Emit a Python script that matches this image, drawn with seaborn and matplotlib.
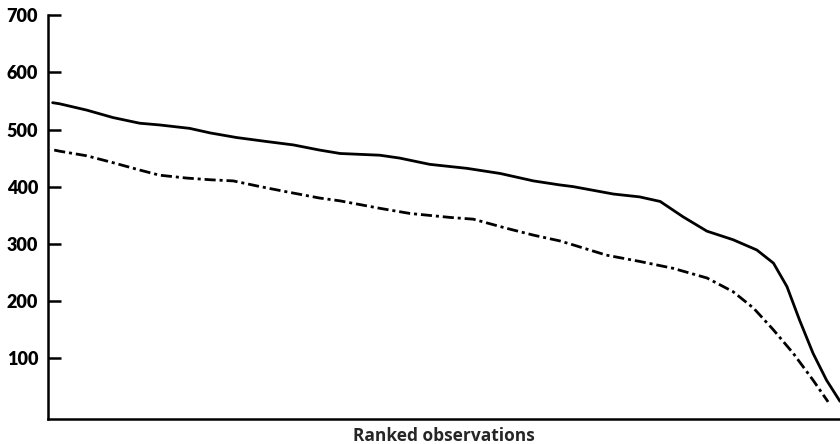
import matplotlib
matplotlib.use("Agg")
import matplotlib.pyplot as plt
import seaborn as sns
import pandas as pd

# Ranked position (percent of observations, 0 = highest) and measured values
rank_solid = [0.6, 1.5, 4.9, 8.2, 11.6, 14.1, 17.9, 20.5, 23.8, 27.6, 31.0, 34.3,
              36.9, 41.9, 44.4, 48.2, 52.9, 57.1, 61.3, 64.6, 66.3, 71.4, 74.7,
              77.3, 80.2, 83.2, 86.5, 89.5, 91.6, 93.3, 94.9, 96.6, 98.3, 100.0]
value_solid = [547, 545, 534, 521, 511, 508, 502, 494, 486, 479, 473, 464,
               458, 455, 450, 439, 432, 423, 410, 403, 400, 387, 382,
               374, 347, 322, 307, 289, 266, 225, 166, 108, 61, 24]

rank_dash = [0.8, 1.5, 4.9, 8.2, 11.6, 14.1, 17.5, 20.5, 23.4, 26.8, 30.1, 34.3,
             36.9, 41.9, 45.7, 50.8, 53.7, 57.9, 61.3, 64.6, 66.3, 70.5, 74.7,
             78.9, 83.2, 86.5, 89.1, 91.6, 94.1, 96.6, 98.5]
value_dash = [464, 462, 454, 442, 429, 420, 415, 412, 410, 400, 391, 380,
              375, 362, 353, 346, 343, 327, 315, 305, 298, 280, 269,
              257, 240, 216, 187, 149, 108, 61, 23]

y_ticks = [100, 200, 300, 400, 500, 600, 700]
x_label = "Ranked observations"

sns.set_theme(style="white")
plt.rcParams["font.family"] = ["Lato", "DejaVu Sans"]
plt.rcParams["font.weight"] = "bold"

fig = plt.figure(figsize=(8.4, 4.44), dpi=100)
ax = fig.add_axes([0.057, 0.0563, 0.943, 0.9092])

solid = pd.DataFrame({"rank": rank_solid, "value": value_solid})
dash = pd.DataFrame({"rank": rank_dash, "value": value_dash})

sns.lineplot(data=solid, x="rank", y="value", ax=ax, color="black",
             linewidth=2.0, sort=False)
sns.lineplot(data=dash, x="rank", y="value", ax=ax, color="black",
             linewidth=2.0, sort=False)
ax.lines[0].set_solid_joinstyle("round")
ax.lines[1].set_linestyle((0, (4, 1.4, 1.1, 1.4)))
ax.lines[1].set_dash_joinstyle("round")

ax.set_xlim(0, 100)
ax.set_ylim(-7, 700)
ax.set_yticks(y_ticks)
ax.set_yticklabels([str(t) for t in y_ticks], fontsize=13, fontweight="heavy")
ax.set_xticks([])
ax.set_ylabel("")
ax.set_xlabel(x_label, fontsize=12.5, fontweight="bold", labelpad=6,
              family=["Open Sans", "DejaVu Sans"])

for side in ("top", "right"):
    ax.spines[side].set_visible(False)
for side in ("left", "bottom"):
    ax.spines[side].set_linewidth(1.8)
    ax.spines[side].set_color("black")
ax.spines["left"].set_bounds(-7, 700)

ax.tick_params(axis="y", direction="in", length=9, width=1.8, pad=7,
               colors="black", left=True)

fig.savefig("out.png", dpi=100, facecolor="white")
